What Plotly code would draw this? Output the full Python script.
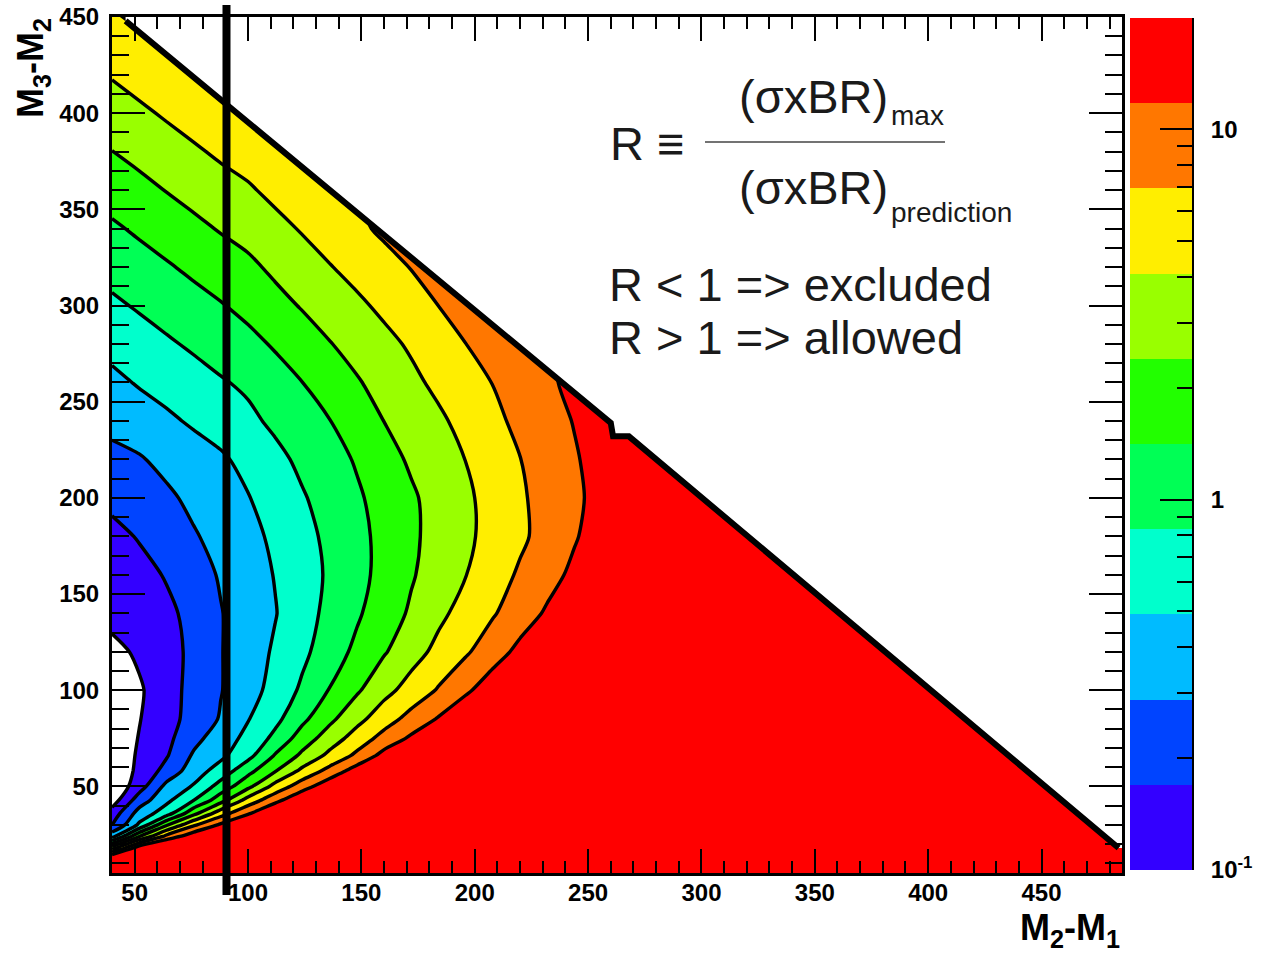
import math
import plotly.graph_objects as go

# ---------------- data ----------------
# grid nodes: M2-M1 (columns) and M3-M2 (rows)
m21_nodes = [40, 52, 64, 76, 88, 100, 112, 124, 136, 148, 160, 172, 184, 196, 208,
             220, 232, 244, 256, 268, 280, 320, 400, 490]
m32_nodes = [4, 12, 18, 24, 30, 36, 43, 50, 58, 66, 75, 85, 100, 120, 140, 160, 180,
             200, 220, 240, 260, 280, 300, 320, 340, 360, 380, 400, 420, 440, 452]

# log10(R) read at each node, one list per M3-M2 row (rows stop at the kinematic limit)
logR_y004 = [1.5, 1.5, 1.5, 1.5, 1.5, 1.5, 1.5, 1.5, 1.5, 1.5, 1.5, 1.5, 1.5, 1.5, 1.5, 1.5, 1.5, 1.5, 1.5, 1.5, 1.5, 1.5, 1.5, 1.5]
logR_y012 = [1.5, 1.5, 1.5, 1.5, 1.5, 1.5, 1.5, 1.5, 1.5, 1.5, 1.5, 1.5, 1.5, 1.5, 1.5, 1.5, 1.5, 1.5, 1.5, 1.5, 1.5, 1.5, 1.5, 1.5]
logR_y018 = [0.49, 1.23, 1.5, 1.5, 1.5, 1.5, 1.5, 1.5, 1.5, 1.5, 1.5, 1.5, 1.5, 1.5, 1.5, 1.5, 1.5, 1.5, 1.5, 1.5, 1.5, 1.5, 1.5, 1.5]
logR_y024 = [-0.39, 0.37, 0.91, 1.23, 1.5, 1.5, 1.5, 1.5, 1.5, 1.5, 1.5, 1.5, 1.5, 1.5, 1.5, 1.5, 1.5, 1.5, 1.5, 1.5, 1.5, 1.5, 1.5, 1.5]
logR_y030 = [-0.78, -0.27, 0.35, 0.80, 1.11, 1.41, 1.5, 1.5, 1.5, 1.5, 1.5, 1.5, 1.5, 1.5, 1.5, 1.5, 1.5, 1.5, 1.5, 1.5, 1.5, 1.5, 1.5, 1.5]
logR_y036 = [-0.90, -0.45, -0.19, 0.31, 0.74, 1.04, 1.33, 1.5, 1.5, 1.5, 1.5, 1.5, 1.5, 1.5, 1.5, 1.5, 1.5, 1.5, 1.5, 1.5, 1.5, 1.5, 1.5, 1.5]
logR_y043 = [-1.12, -0.66, -0.37, -0.09, 0.28, 0.69, 0.99, 1.27, 1.5, 1.5, 1.5, 1.5, 1.5, 1.5, 1.5, 1.5, 1.5, 1.5, 1.5, 1.5, 1.5, 1.5, 1.5, 1.5]
logR_y050 = [-1.20, -0.87, -0.48, -0.29, 0.01, 0.32, 0.69, 0.97, 1.23, 1.5, 1.5, 1.5, 1.5, 1.5, 1.5, 1.5, 1.5, 1.5, 1.5, 1.5, 1.5, 1.5, 1.5, 1.5]
logR_y058 = [-1.17, -0.95, -0.69, -0.42, -0.21, 0.08, 0.37, 0.67, 0.92, 1.18, 1.45, 1.5, 1.5, 1.5, 1.5, 1.5, 1.5, 1.5, 1.5, 1.5, 1.5, 1.5, 1.5, 1.5]
logR_y066 = [-1.16, -0.97, -0.79, -0.51, -0.36, -0.15, 0.17, 0.43, 0.67, 0.89, 1.15, 1.40, 1.5, 1.5, 1.5, 1.5, 1.5, 1.5, 1.5, 1.5, 1.5, 1.5, 1.5, 1.5]
logR_y075 = [-1.16, -0.99, -0.83, -0.61, -0.42, -0.25, -0.02, 0.26, 0.49, 0.71, 0.92, 1.11, 1.31, 1.5, 1.5, 1.5, 1.5, 1.5, 1.5, 1.5, 1.5, 1.5, 1.5, 1.5]
logR_y085 = [-1.17, -1.01, -0.85, -0.69, -0.52, -0.32, -0.14, 0.10, 0.33, 0.54, 0.74, 0.92, 1.09, 1.26, 1.43, 1.5, 1.5, 1.5, 1.5, 1.5, 1.5, 1.5, 1.5, 1.5]
logR_y100 = [-1.20, -1.03, -0.86, -0.70, -0.55, -0.40, -0.23, -0.04, 0.16, 0.35, 0.54, 0.70, 0.86, 1.03, 1.20, 1.37, 1.5, 1.5, 1.5, 1.5, 1.5, 1.5, 1.5, 1.5]
logR_y120 = [-1.07, -0.96, -0.85, -0.72, -0.55, -0.42, -0.28, -0.13, 0.04, 0.20, 0.36, 0.52, 0.67, 0.81, 0.97, 1.13, 1.30, 1.46, 1.5, 1.5, 1.5, 1.5, 1.5]
logR_y140 = [-0.92, -0.88, -0.83, -0.69, -0.55, -0.43, -0.32, -0.17, -0.02, 0.12, 0.27, 0.41, 0.56, 0.69, 0.82, 0.96, 1.10, 1.24, 1.38, 1.5, 1.5, 1.5, 1.5]
logR_y160 = [-0.89, -0.86, -0.75, -0.63, -0.52, -0.41, -0.30, -0.17, -0.05, 0.08, 0.22, 0.36, 0.48, 0.605, 0.74, 0.87, 0.99, 1.12, 1.25, 1.38, 1.5, 1.5, 1.5]
logR_y180 = [-0.85, -0.75, -0.66, -0.56, -0.47, -0.37, -0.27, -0.15, -0.03, 0.09, 0.21, 0.34, 0.46, 0.57, 0.68, 0.80, 0.92, 1.05, 1.18, 1.31, 1.44, 1.5, 1.5]
logR_y200 = [-0.70, -0.66, -0.58, -0.49, -0.41, -0.32, -0.21, -0.10, 0.01, 0.12, 0.23, 0.35, 0.46, 0.57, 0.69, 0.81, 0.92, 1.03, 1.14, 1.25, 1.36, 1.5]
logR_y220 = [-0.59, -0.56, -0.48, -0.41, -0.34, -0.25, -0.14, -0.03, 0.07, 0.17, 0.30, 0.41, 0.51, 0.613, 0.73, 0.836, 0.94, 1.05, 1.15, 1.26, 1.36, 1.5]
logR_y240 = [-0.49, -0.42, -0.35, -0.28, -0.22, -0.13, -0.035, 0.055, 0.145, 0.26, 0.382, 0.48, 0.57, 0.68, 0.79, 0.89, 0.99, 1.08, 1.18, 1.30]
logR_y260 = [-0.365, -0.29, -0.23, -0.165, -0.10, -0.04, 0.055, 0.149, 0.25, 0.36, 0.46, 0.56, 0.66, 0.75, 0.845, 0.94, 1.03, 1.13]
logR_y280 = [-0.24, -0.175, -0.11, -0.047, 0.017, 0.086, 0.175, 0.27, 0.37, 0.46, 0.55, 0.64, 0.74, 0.838, 0.93, 1.02]
logR_y300 = [-0.12, -0.056, 0.008, 0.072, 0.136, 0.213, 0.306, 0.398, 0.483, 0.568, 0.656, 0.748, 0.841, 0.933, 1.02]
logR_y320 = [-0.002, 0.063, 0.127, 0.195, 0.265, 0.331, 0.427, 0.513, 0.599, 0.682, 0.765, 0.848, 0.93]
logR_y340 = [0.117, 0.185, 0.256, 0.327, 0.397, 0.462, 0.545, 0.629, 0.712, 0.796, 0.879]
logR_y360 = [0.245, 0.316, 0.387, 0.454, 0.522, 0.583, 0.666, 0.75, 0.834]
logR_y380 = [0.377, 0.444, 0.512, 0.579, 0.647, 0.704, 0.787, 0.87]
logR_y400 = [0.502, 0.569, 0.637, 0.704, 0.771, 0.83]
logR_y420 = [0.627, 0.694, 0.761, 0.828]
logR_y440 = [0.751, 0.818, 0.885]
logR_y452 = [0.826, 0.893]

logR_rows = [logR_y004, logR_y012, logR_y018, logR_y024, logR_y030, logR_y036, logR_y043,
             logR_y050, logR_y058, logR_y066, logR_y075, logR_y085, logR_y100, logR_y120,
             logR_y140, logR_y160, logR_y180, logR_y200, logR_y220, logR_y240, logR_y260,
             logR_y280, logR_y300, logR_y320, logR_y340, logR_y360, logR_y380, logR_y400,
             logR_y420, logR_y440, logR_y452]

# contour / colour-band edges in log10(R)
band_edges = [-1.0, -0.77, -0.54, -0.31, -0.08, 0.15, 0.38, 0.61, 0.84, 1.07, 1.30]
band_colors = ['#3300ff', '#0044ff', '#00bbff', '#00ffcc', '#00ff55',
               '#22ff00', '#99ff00', '#ffee00', '#ff7700', '#ff0000']

# kinematic limit (edge of the allowed region)
limit_x = [46, 260, 261, 268, 484]
limit_y = [448, 239, 232, 232, 18]

# vertical reference line
marker_x = 90.5

# colour-bar tick labels (R values)
cbar_major_R = [0.1, 1, 10]
cbar_major_text = ['10<sup>-1</sup>', '1', '10']
cbar_minor_R = [0.2, 0.3, 0.4, 0.5, 0.6, 0.7, 0.8, 0.9, 2, 3, 4, 5, 6, 7, 8, 9]

x_range = [40, 485.5]
y_range = [5, 450]

# ---------------- figure ----------------
n_cols = len(m21_nodes)
z = [row + [None] * (n_cols - len(row)) for row in logR_rows]  # None = beyond kinematic limit

n_bands = len(band_colors)
step = band_edges[1] - band_edges[0]
# stepped colour scale for plotly's 'fill' contour colouring (band k centred at k/n)
cscale = [[0.0, 'white'], [0.5 / n_bands, 'white']]
for i, c in enumerate(band_colors):
    cscale.append([(i + 0.5) / n_bands, c])
    cscale.append([min((i + 1.5) / n_bands, 1.0), c])

fig = go.Figure()
fig.add_trace(go.Contour(
    x=m21_nodes, y=m32_nodes, z=z, connectgaps=True,
    contours=dict(start=band_edges[0], end=band_edges[-2] + 0.01, size=step,
                  coloring='fill', showlines=True),
    line=dict(color='black', width=3.4, smoothing=0.8),
    colorscale=cscale, showscale=False, hoverinfo='skip',
))

# white area beyond kinematic limit
wx = limit_x + [x_range[1] + 20, x_range[1] + 20, limit_x[0]]
wy = limit_y + [limit_y[-1], y_range[1] + 20, y_range[1] + 20]
fig.add_trace(go.Scatter(x=wx, y=wy, mode='lines', fill='toself', fillcolor='white',
                         line=dict(width=0, color='white'), hoverinfo='skip'))
fig.add_trace(go.Scatter(x=limit_x, y=limit_y, mode='lines',
                         line=dict(color='black', width=6), hoverinfo='skip'))

# colour bar drawn as a heatmap on its own axes
cb_scale = []
for i, c in enumerate(band_colors):
    cb_scale.append([i / n_bands, c])
    cb_scale.append([(i + 1) / n_bands, c])
fig.add_trace(go.Heatmap(
    x=[0, 1], y=band_edges, z=[[i] for i in range(n_bands)],
    zmin=-0.5, zmax=n_bands - 0.5, colorscale=cb_scale, showscale=False,
    xaxis='x2', yaxis='y2', hoverinfo='skip'))

W, H = 1262, 957
ml, mr, mt, mb = 112, 70, 17, 84
pw, ph = W - ml - mr, H - mt - mb

def px_x(p):
    return (p - ml) / pw

def px_y(p):
    return (H - mb - p) / ph

tickfont = dict(family='Liberation Sans, Arial, sans-serif', size=24, color='black', weight='bold')
axis_common = dict(ticks='inside', tickwidth=2, tickcolor='black', showline=True,
                   linewidth=3, linecolor='black', mirror='allticks', showgrid=False,
                   zeroline=False, tickfont=tickfont, automargin=False)

fig.update_layout(
    width=W, height=H, margin=dict(l=ml, r=mr, t=mt, b=mb, autoexpand=False),
    paper_bgcolor='white', plot_bgcolor='white', showlegend=False,
    xaxis=dict(domain=[0, px_x(1122)], range=x_range, tick0=0, dtick=50, ticklen=24,
               minor=dict(dtick=10, tick0=0, ticks='inside', ticklen=12, tickwidth=2,
                          tickcolor='black'),
               ticklabelstandoff=-4, **axis_common),
    yaxis=dict(domain=[0, 1], range=y_range, tick0=0, dtick=50, ticklen=33,
               minor=dict(dtick=10, tick0=0, ticks='inside', ticklen=17, tickwidth=2,
                          tickcolor='black'),
               ticklabelstandoff=5, **axis_common),
    xaxis2=dict(domain=[px_x(1130), px_x(1192)], range=[0, 1], visible=False,
                anchor='y2', fixedrange=True),
    yaxis2=dict(domain=[px_y(870), px_y(18)], range=[band_edges[0], band_edges[-1]],
                anchor='x2', side='right', ticks='inside', ticklen=32, tickwidth=2,
                tickcolor='black',
                tickmode='array', tickvals=[math.log10(v) for v in cbar_major_R],
                ticktext=cbar_major_text,
                minor=dict(tickmode='array', tickvals=[math.log10(v) for v in cbar_minor_R],
                           ticks='inside', ticklen=15, tickwidth=2, tickcolor='black'),
                showline=True, linewidth=2, linecolor='black', showgrid=False,
                zeroline=False, tickfont=tickfont, ticklabelstandoff=12, automargin=False),
)

fig.add_shape(type='line', xref='x', yref='paper', x0=marker_x, x1=marker_x,
              y0=px_y(895), y1=px_y(5), line=dict(color='black', width=8))
fig.add_shape(type='line', xref='paper', yref='paper', x0=px_x(705), x1=px_x(945),
              y0=px_y(142), y1=px_y(142), line=dict(color='#444444', width=1.5))

txt = dict(family='Liberation Sans, Arial, sans-serif', color='#1a1a1a')
def note(text, xp, yp, size, xanchor='left', **kw):
    fig.add_annotation(text=text, xref='paper', yref='paper', x=px_x(xp), y=px_y(yp),
                       xanchor=xanchor, yanchor='middle', showarrow=False,
                       font=dict(size=size, **kw.pop('font', txt)), **kw)

note('R \u2261', 608, 143, 47)
note('(\u03c3xBR)', 737, 96, 47)
note('max', 889, 115, 28)
note('(\u03c3xBR)', 737, 187, 47)
note('prediction', 889, 213, 28)
note('R &lt; 1 =&gt; excluded', 607, 284, 47)
note('R &gt; 1 =&gt; allowed', 607, 337, 47)

bold = dict(family='Liberation Sans, Arial, sans-serif', color='black', weight='bold')
note('M<sub>3</sub>-M<sub>2</sub>', 33, 68, 36, xanchor='center', textangle=-90, font=bold)
note('M<sub>2</sub>-M<sub>1</sub>', 1122, 930, 36, xanchor='right', font=bold)

fig.write_html("out.html", config={'displayModeBar': False},
               post_script="document.body.style.margin='0px';"
                           "document.body.style.overflow='hidden';")
